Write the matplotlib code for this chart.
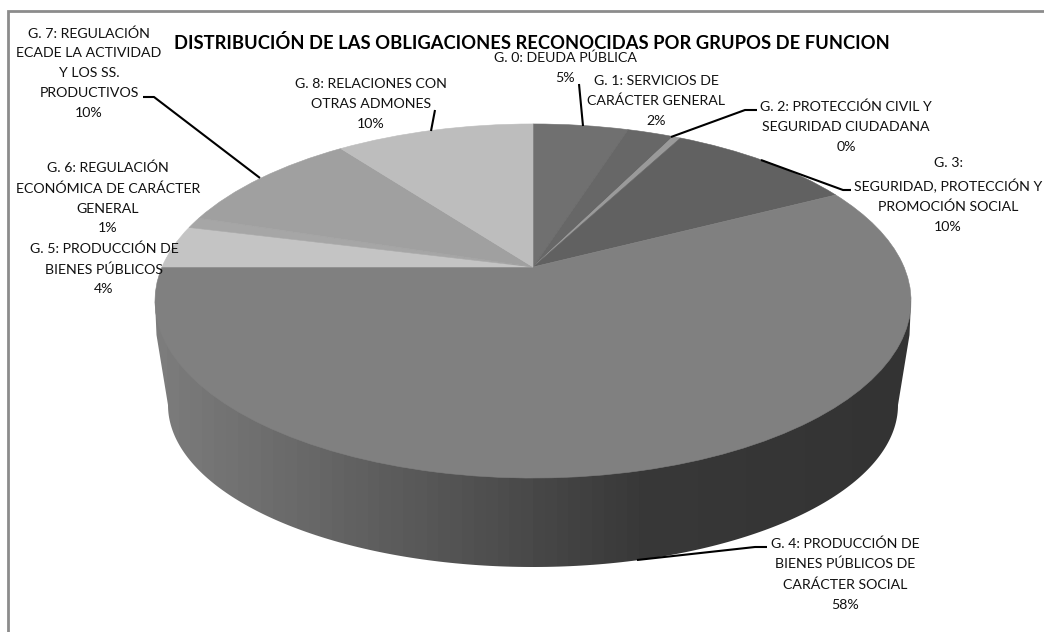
import numpy as np
import matplotlib
matplotlib.use('Agg')
import matplotlib.pyplot as plt
from matplotlib.colors import LinearSegmentedColormap
from matplotlib.patches import Polygon
from matplotlib.transforms import Transform

title = 'DISTRIBUCIÓN DE LAS OBLIGACIONES RECONOCIDAS POR GRUPOS DE FUNCION'

groups = ['G. 0: DEUDA PÚBLICA', 'G. 1: SERVICIOS DE\nCARÁCTER GENERAL',
          'G. 2: PROTECCIÓN CIVIL Y\nSEGURIDAD CIUDADANA',
          'G. 3:\nSEGURIDAD, PROTECCIÓN Y\nPROMOCIÓN SOCIAL',
          'G. 4: PRODUCCIÓN DE\nBIENES PÚBLICOS DE\nCARÁCTER SOCIAL',
          'G. 5: PRODUCCIÓN DE\nBIENES PÚBLICOS',
          'G. 6: REGULACIÓN\nECONÓMICA DE CARÁCTER\nGENERAL',
          'G. 7: REGULACIÓN\nECADE LA ACTIVIDAD\nY LOS SS.\nPRODUCTIVOS',
          'G. 8: RELACIONES CON\nOTRAS ADMONES']
shares = [4.9, 2.4, 0.4, 9.7, 57.6, 3.9, 1.0, 9.9, 10.2]
colors = ['#707070', '#676767', '#9a9a9a', '#616161', '#808080',
          '#c4c4c4', '#a6a6a6', '#a0a0a0', '#bdbdbd']

# where the labels go, in pixels
label_x = [565, 656, 846, 948, 845, 104, 108, 89, 371]
label_y = [68, 101, 127, 195, 574, 269, 198, 73, 104]

leaders = [
    ([579, 583], [84, 126]),
    ([757, 745, 671], [110, 110, 137]),
    ([851, 843, 761], [190, 190, 160]),
    ([767, 755, 637], [547, 547, 560]),
    ([143, 154, 260], [97, 97, 178]),
    ([435, 431], [110, 131]),
]

# perspective of the pie top
cx, cy = 533, 267
bx, ay, k = 371, 170.5, 0.192


class Tilt(Transform):
    input_dims = output_dims = 2

    def transform_non_affine(self, values):
        values = np.asarray(values)
        w = 1 + k * values[:, 1]
        return np.column_stack([cx + bx * values[:, 0] / w, cy - ay * values[:, 1] / w])


plt.rcParams['font.family'] = ['Lato', 'DejaVu Sans']

fig = plt.figure(figsize=(10.44, 6.32), dpi=100)
ax = fig.add_axes([0, 0, 1, 1])

wedges, _ = ax.pie(shares, colors=colors, startangle=90, counterclock=False,
                   wedgeprops={'linewidth': 0.4, 'zorder': 3})
ax.set_aspect('auto')
for w, c in zip(wedges, colors):
    w.set_edgecolor(c)
    w.set_transform(Tilt() + ax.transData)

# side of the pie
t = np.linspace(0, np.pi, 200)
side = np.column_stack([533 + 365 * np.cos(t), 405 + 162 * np.sin(t)])
side = np.vstack([[911, 301], [909.5, 335], side, [156.5, 335], [155, 301]])
clip = Polygon(side, closed=True, transform=ax.transData, facecolor='none', edgecolor='none')
ax.add_patch(clip)
grey = LinearSegmentedColormap.from_list('side', [(0, '#7c7c7c'), (0.35, '#585858'),
                                                  (0.65, '#383838'), (1, '#333333')])
img = ax.imshow(np.linspace(0, 1, 64)[None, :], cmap=grey, aspect='auto',
                extent=(155, 911, 570, 290), zorder=1)
img.set_clip_path(clip)

# chart frame, only the top and left sides show
ax.plot([8, 8, 1044], [632, 11, 11], color='#8c8c8c', linewidth=2, zorder=5,
        solid_joinstyle='miter')

for xs, ys in leaders:
    ax.plot(xs, ys, color='black', linewidth=1.5, zorder=6, solid_capstyle='butt')

for name, share, x, y in zip(groups, shares, label_x, label_y):
    ax.text(x, y, f'{name}\n{share:.0f}%', ha='center', va='center', fontsize=10.2,
            linespacing=1.78, color='#111111', zorder=7, clip_on=True)

ax.text(532, 43, title, ha='center', va='center', fontsize=13.2, fontweight='bold',
        color='black', zorder=8)

ax.set_xlim(0, 1044)
ax.set_ylim(632, 0)
ax.set_axis_off()
fig.savefig('out.png', dpi=100)
